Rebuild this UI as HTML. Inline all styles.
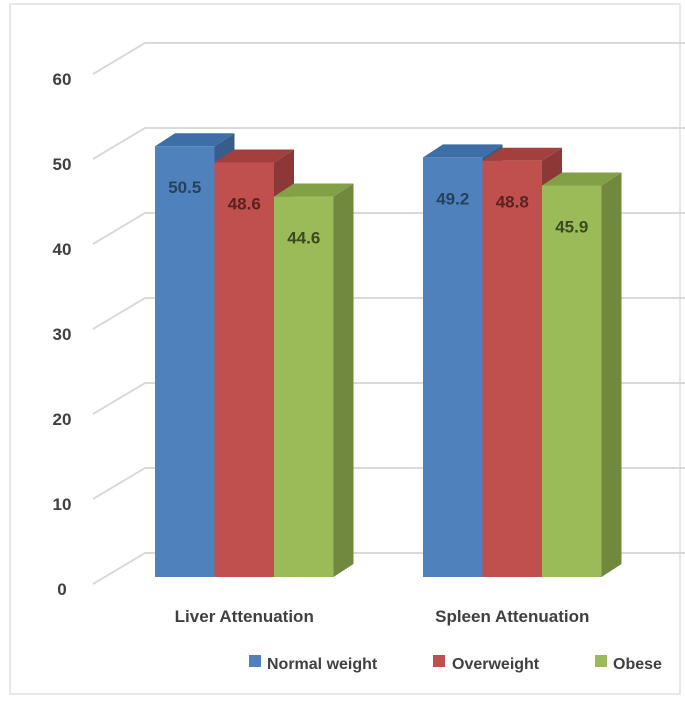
<!DOCTYPE html>
<html><head><meta charset="utf-8"><style>
body{margin:0;background:#fff}
svg{display:block;font-family:"Liberation Sans",sans-serif}
</style></head><body>
<svg width="685" height="701" viewBox="0 0 685 701">
<rect x="10" y="4" width="670" height="690" fill="#fff" stroke="#e0e0e0" stroke-width="1.5"/>
<g id="grid"></g>
<g id="bars"></g>
<g id="labels"></g>
<g>
<rect x="249" y="655" width="12" height="12" fill="#4f81bd"/>
<text x="267" y="669" font-size="16" font-weight="bold" fill="#404040">Normal weight</text>
<rect x="433" y="655" width="12" height="12" fill="#c0504d"/>
<text x="452" y="669" font-size="16" font-weight="bold" fill="#404040">Overweight</text>
<rect x="595" y="655" width="12" height="12" fill="#9bbb59"/>
<text x="613" y="669" font-size="16" font-weight="bold" fill="#404040">Obese</text>
</g>
</svg>
<script>
const categories = ["Liver Attenuation", "Spleen Attenuation"];
const normalWeight = [50.5, 49.2];
const overweight = [48.6, 48.8];
const obese = [44.6, 45.9];
const yTicks = [0, 10, 20, 30, 40, 50, 60];

const NS = "http://www.w3.org/2000/svg";
function mk(tag, attrs, parent){const e=document.createElementNS(NS,tag);for(const k in attrs)e.setAttribute(k,attrs[k]);parent.appendChild(e);return e;}
const yFront = v => 577 - v * 8.53;
const yBack = v => 553 - v * 8.5;
const yDiag = v => 584 - v * 8.5;
const grid = document.getElementById('grid');
yTicks.forEach(t => {
  const p = mk('polyline', {points:`93,${yDiag(t)} 145,${yBack(t)} 685,${yBack(t)}`, fill:'none', stroke:'#d9d9d9', 'stroke-width':2}, grid);
  
  
  const tx = mk('text', {x:62, y:yDiag(t)+11, 'font-size':17, 'font-weight':'bold', fill:'#404040', 'text-anchor':'middle'}, grid);
  tx.textContent = t;
  
  
});
const series = [
  {name:'normal', vals:normalWeight, front:'#4f81bd', top:'#3d6ea8', side:'#385d8a', txt:'#24425f'},
  {name:'overweight', vals:overweight, front:'#c0504d', top:'#a33f3c', side:'#8c3836', txt:'#5a2120'},
  {name:'obese', vals:obese, front:'#9bbb59', top:'#82a046', side:'#71893f', txt:'#3b4a1f'}
];
const groupX = [155, 423];
const bw = 59.5, dx = 20, dy = 13;
const bars = document.getElementById('bars');
const labels = document.getElementById('labels');
categories.forEach((c, ci) => {
  series.forEach((s, si) => {
    const v = s.vals[ci];
    const x = groupX[ci] + si * bw, yt = yFront(v), yb = 577;
    const g = mk('g', {}, bars);
    
    
    mk('polygon', {points:`${x+bw},${yt} ${x+bw+dx},${yt-dy} ${x+bw+dx},${yb-dy} ${x+bw},${yb}`, fill:s.side}, g);
    mk('polygon', {points:`${x},${yt} ${x+dx},${yt-dy} ${x+bw+dx},${yt-dy} ${x+bw},${yt}`, fill:s.top}, g);
    mk('rect', {x:x, y:yt, width:bw, height:yb-yt, fill:s.front}, g);
    const t = mk('text', {x:x+bw/2, y:yt+47, 'font-size':17, 'font-weight':'bold', fill:s.txt, 'text-anchor':'middle'}, labels);
    t.textContent = v.toFixed(1);
    
    
  });
  const ct = mk('text', {x:groupX[ci] + 1.5*bw, y:622, 'font-size':17, 'font-weight':'bold', fill:'#404040', 'text-anchor':'middle'}, labels);
  ct.textContent = c;
  
  
});
</script>
</body></html>
